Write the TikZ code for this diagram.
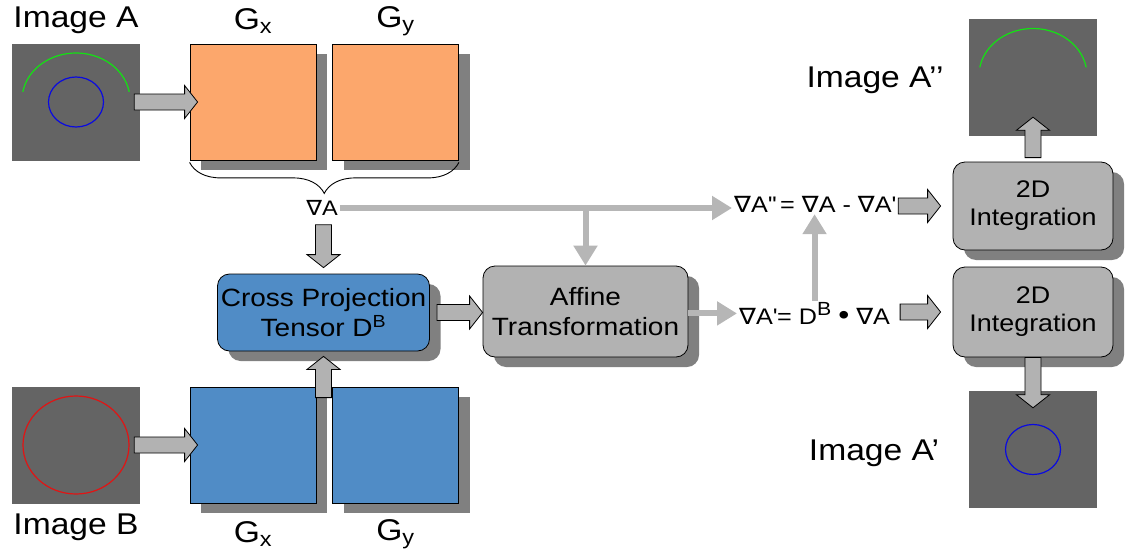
\documentclass[tikz,border=0pt]{standalone}
\usepackage{fontspec}
\setmainfont[FakeStretch=1.12]{Liberation Sans}
\newfontfamily\nablafont[FakeStretch=1.12]{DejaVu Sans}
\newcommand\nab{{\nablafont ∇}}
\usetikzlibrary{arrows.meta,calc,shadows,decorations.pathreplacing}

\definecolor{imggray}{RGB}{100,100,100}
\definecolor{gxorange}{RGB}{252,167,108}
\definecolor{gxblue}{RGB}{80,140,198}
\definecolor{boxgray}{RGB}{178,178,178}
\definecolor{flowgray}{RGB}{182,182,182}
\definecolor{shadowgray}{RGB}{128,128,128}
\definecolor{arcgreen}{RGB}{20,225,20}
\definecolor{ringblue}{RGB}{10,10,225}
\definecolor{ringred}{RGB}{225,20,20}

\tikzset{
  img/.style={fill=imggray, minimum width=128pt, minimum height=117pt, inner sep=0pt},
  boxshadow/.style={drop shadow={shadow xshift=11pt, shadow yshift=-10pt, fill=shadowgray, opacity=1}},
  grad/.style={draw, line width=0.8pt, minimum width=126pt, minimum height=116pt, inner sep=0pt, boxshadow},
  proc/.style={draw, fill=boxgray, line width=0.8pt, rounded corners=12pt, align=center,
    inner sep=0pt, font=\fontsize{25}{30}\selectfont, boxshadow},
  imglabel/.style={font=\fontsize{30}{36}\selectfont},
  formula/.style={font=\fontsize{22.5}{26}\selectfont, inner sep=2pt},
  flow/.style={draw=flowgray, line width=6pt, -{Triangle[width=23pt,length=20pt]}},
  fat/.style={draw=black, fill=boxgray, line width=0.8pt},
}

\newcommand\fatarrow[2]{%
  \filldraw[fat] let \p1=(#1), \p2=(#2),
    \n1={veclen(\x2-\x1,\y2-\y1)}, \n2={atan2(\y2-\y1,\x2-\x1)} in
    [shift={(\p1)}, rotate=\n2]
    (0pt,8pt) -- (\n1-13pt,8pt) -- (\n1-13pt,16.5pt) -- (\n1,0pt)
    -- (\n1-13pt,-16.5pt) -- (\n1-13pt,-8pt) -- (0pt,-8pt) -- cycle;}

\begin{document}
\begin{tikzpicture}[x=1pt,y=-1pt]
\useasboundingbox (0,0) rectangle (1125,557);

\node[img] (imgA) at (76,102) {};
\node[img] (imgB) at (76,445) {};
\node[img] (imgApp) at (1033,77.5) {};
\node[img] (imgAp) at (1033,449.5) {};
\draw[arcgreen, line width=1.2pt] (imgA.center) ++(0,-2) ++(10:54pt and 47pt)
  arc[start angle=10, end angle=170, x radius=54pt, y radius=47pt];
\draw[ringblue, line width=1.2pt] (imgA.center) ellipse[x radius=27.5pt, y radius=25pt];
\draw[ringred, line width=1.2pt] (imgB.center) ellipse[x radius=53pt, y radius=49pt];
\draw[arcgreen, line width=1.2pt] (imgApp.center) ++(0,-2) ++(10:54pt and 47pt)
  arc[start angle=10, end angle=170, x radius=54pt, y radius=47pt];
\draw[ringblue, line width=1.2pt] (imgAp.center) ellipse[x radius=27.5pt, y radius=25pt];

\node[imglabel] (labA) at (76,20) {Image A};
\node[imglabel] (labB) at (76,527.5) {Image B};
\node[imglabel] (labApp) at (875,80) {Image A’’};
\node[imglabel] (labAp) at (874,453.5) {Image A’};

\node[grad, fill=gxorange] (gxA) at (253,102) {};
\node[grad, fill=gxorange] (gyA) at (395.5,102) {};
\node[grad, fill=gxblue] (gxB) at (253,445) {};
\node[grad, fill=gxblue] (gyB) at (395.5,445) {};
\node[imglabel] (gxAlab) at (253,21) {G\textsubscript{x}};
\node[imglabel] (gyAlab) at (395.5,21) {G\textsubscript{y}};
\node[imglabel] (gxBlab) at (253,534) {G\textsubscript{x}};
\node[imglabel] (gyBlab) at (395.5,534) {G\textsubscript{y}};

\draw[line width=0.9pt, decorate, decoration={brace, mirror, amplitude=31pt}]
  ($(gxA.south west)+(0,2)$) -- ($(gyA.south east)+(0,2)$);
\node[formula, font=\fontsize{21}{24}\selectfont] (gradA) at (322,208) {\nab A};

\node[proc, fill=gxblue, minimum width=212pt, minimum height=77pt] (cross) at (323.5,312.5)
  {Cross Projection\\Tensor D\textsuperscript{B}};
\node[proc, minimum width=205pt, minimum height=91pt] (affine) at (585.5,311.5)
  {Affine\\Transformation};
\node[proc, minimum width=160pt, minimum height=88pt, font=\fontsize{24}{28}\selectfont] (intA) at (1033,206)
  {2D\\Integration};
\node[proc, minimum width=160pt, minimum height=90pt, font=\fontsize{24}{28}\selectfont] (intB) at (1033,312)
  {2D\\Integration};

\node[formula, anchor=base west] (gradApp) at (732,212)
  {\nab A\textquotesingle\textquotesingle\,= \nab A - \nab A\textquotesingle};
\node[formula, anchor=base west] (gradAp) at (737,324)
  {\nab A\textquotesingle= D\raisebox{.36em}{\fontsize{19}{20}\selectfont B} {\fontsize{28}{26}\selectfont •} \nab A};

\draw[flow] (gradA.east) -- (gradA.east -| gradApp.west);
\draw[flow] (affine.north |- gradA.east) -- (affine.north);
\draw[flow] (affine.east |- gradAp.west) -- (gradAp.west);
\draw[flow] (gradAp.north) -- (gradAp.north |- gradApp.south);

\fatarrow{$(imgA.east)+(-6,0)$}{$(gxA.west)+(8,0)$}
\fatarrow{$(imgB.east)+(-6,0)$}{$(gxB.west)+(8,0)$}
\fatarrow{$(cross.north |- gradA.south)+(0,7)$}{$(cross.north)+(0,-6)$}
\fatarrow{$(cross.south |- gxB.north)+(0,11)$}{$(cross.south)+(0,5)$}
\fatarrow{$(cross.east)+(7,0)$}{affine.west |- cross.east}
\fatarrow{intA.west -| gradApp.east}{$(intA.west)+(-12,0)$}
\fatarrow{$(intB.west -| gradAp.east)+(8,0)$}{$(intB.west)+(-12,0)$}
\fatarrow{$(intA.north)+(0,-4)$}{$(imgApp.south)+(0,-19)$}
\fatarrow{intB.south}{$(imgAp.north)+(0,17)$}
\end{tikzpicture}
\end{document}
